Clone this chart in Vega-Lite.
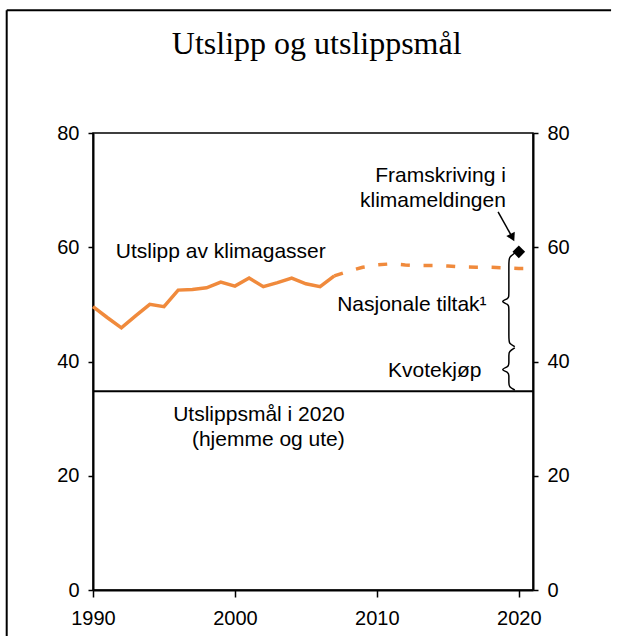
{
  "$schema": "https://vega.github.io/schema/vega-lite/v6.json",
  "width": 440,
  "height": 457,
  "autosize": {"type": "none"},
  "padding": {"left": 93, "top": 133, "right": 84, "bottom": 46},
  "background": "white",
  "config": {
    "view": {"stroke": "black", "strokeWidth": 1.5},
    "font": "Liberation Sans",
    "axis": {
      "domainColor": "black", "domainWidth": 2, "tickColor": "black", "tickWidth": 1.5,
      "labelColor": "black", "labelFont": "Liberation Sans", "labelFontSize": 20, "grid": false,
      "labelFlush": false, "labelOverlap": false
    },
    "text": {"font": "Liberation Sans", "fontSize": 21, "color": "black", "baseline": "alphabetic"}
  },
  "datasets": {
    "emissions": [
      {"year": 1990, "value": 49.6}, {"year": 1991, "value": 47.7}, {"year": 1992, "value": 45.9},
      {"year": 1993, "value": 48.0}, {"year": 1994, "value": 50.0}, {"year": 1995, "value": 49.6},
      {"year": 1996, "value": 52.5}, {"year": 1997, "value": 52.6}, {"year": 1998, "value": 52.9},
      {"year": 1999, "value": 53.9}, {"year": 2000, "value": 53.2}, {"year": 2001, "value": 54.6},
      {"year": 2002, "value": 53.1}, {"year": 2003, "value": 53.8}, {"year": 2004, "value": 54.6},
      {"year": 2005, "value": 53.6}, {"year": 2006, "value": 53.1}, {"year": 2007, "value": 55.0}
    ],
    "projection": [
      {"year": 2007, "value": 55.0}, {"year": 2008, "value": 55.8}, {"year": 2009, "value": 56.5},
      {"year": 2010, "value": 56.9}, {"year": 2011, "value": 57.1}, {"year": 2012, "value": 56.9},
      {"year": 2013, "value": 56.8}, {"year": 2014, "value": 56.8}, {"year": 2015, "value": 56.7},
      {"year": 2016, "value": 56.55}, {"year": 2017, "value": 56.5}, {"year": 2018, "value": 56.5},
      {"year": 2019, "value": 56.4}, {"year": 2020, "value": 56.3}, {"year": 2021, "value": 56.3}
    ],
    "braces": [
      {"brace": "a", "i": 1, "year": 2019.72, "value": 59.0},
      {"brace": "a", "i": 2, "year": 2019.3, "value": 58.2},
      {"brace": "a", "i": 3, "year": 2019.3, "value": 57.6},
      {"brace": "a", "i": 4, "year": 2019.3, "value": 51.6},
      {"brace": "a", "i": 5, "year": 2019.3, "value": 51.0},
      {"brace": "a", "i": 6, "year": 2018.65, "value": 50.5},
      {"brace": "a", "i": 7, "year": 2019.3, "value": 50.0},
      {"brace": "a", "i": 8, "year": 2019.3, "value": 49.4},
      {"brace": "a", "i": 9, "year": 2019.3, "value": 43.8},
      {"brace": "a", "i": 10, "year": 2019.3, "value": 43.2},
      {"brace": "a", "i": 11, "year": 2019.72, "value": 42.6},
      {"brace": "b", "i": 1, "year": 2019.72, "value": 42.4},
      {"brace": "b", "i": 2, "year": 2019.3, "value": 41.7},
      {"brace": "b", "i": 3, "year": 2019.3, "value": 41.2},
      {"brace": "b", "i": 4, "year": 2019.3, "value": 39.6},
      {"brace": "b", "i": 5, "year": 2019.3, "value": 39.1},
      {"brace": "b", "i": 6, "year": 2018.65, "value": 38.6},
      {"brace": "b", "i": 7, "year": 2019.3, "value": 38.1},
      {"brace": "b", "i": 8, "year": 2019.3, "value": 37.6},
      {"brace": "b", "i": 9, "year": 2019.3, "value": 36.2},
      {"brace": "b", "i": 10, "year": 2019.3, "value": 35.6},
      {"brace": "b", "i": 11, "year": 2019.72, "value": 35.0}
    ],
    "target": [{"label": "Utslippsmål i 2020", "value": 34.8}],
    "forecast": [{"year": 2020, "value": 59.2}],
    "arrow": [{"year": 2018.54, "value": 66.2, "year2": 2019.55, "value2": 61.7}],
    "one": [{}]
  },
  "resolve": {"axis": {"y": "independent"}},
  "layer": [
    {
      "layer": [
        {
          "data": {"name": "one"},
          "mark": {"type": "rule", "color": "black", "strokeWidth": 2},
          "encoding": {
            "x": {"datum": 1983.92, "type": "quantitative", "title": null},
            "x2": {"datum": 2026.5},
            "y": {"datum": 101.5, "type": "quantitative", "title": null}
          }
        },
        {
          "data": {"name": "one"},
          "mark": {"type": "rule", "color": "black", "strokeWidth": 2},
          "encoding": {
            "x": {"datum": 1983.92, "type": "quantitative", "title": null},
            "y": {"datum": 101.5, "type": "quantitative", "title": null},
            "y2": {"datum": -12}
          }
        },
        {
          "data": {"name": "emissions"},
          "mark": {"type": "line", "color": "#F08A3C", "strokeWidth": 3.5},
          "encoding": {
            "x": {
              "field": "year", "type": "quantitative", "title": null,
              "scale": {"domain": [1990, 2021], "nice": false, "zero": false},
              "axis": {"values": [1990, 2000, 2010, 2020], "format": "d", "tickSize": 7, "labelPadding": 11, "title": null}
            },
            "y": {
              "field": "value", "type": "quantitative", "title": null,
              "scale": {"domain": [0, 80], "nice": false},
              "axis": {"values": [0, 20, 40, 60, 80], "tickSize": 5, "labelPadding": 9, "orient": "left", "title": null}
            }
          }
        },
        {
          "data": {"name": "projection"},
          "mark": {"type": "line", "color": "#F08A3C", "strokeWidth": 3.5, "strokeDash": [9, 13.7]},
          "encoding": {
            "x": {"field": "year", "type": "quantitative", "title": null},
            "y": {"field": "value", "type": "quantitative", "title": null}
          }
        },
        {
          "data": {"name": "braces"},
          "mark": {"type": "line", "color": "black", "strokeWidth": 1.5, "interpolate": "basis"},
          "encoding": {
            "x": {"field": "year", "type": "quantitative", "title": null},
            "y": {"field": "value", "type": "quantitative", "title": null},
            "detail": {"field": "brace"},
            "order": {"field": "i"}
          }
        },
        {
          "data": {"name": "arrow"},
          "mark": {"type": "rule", "color": "black", "strokeWidth": 1.5},
          "encoding": {
            "x": {"field": "year", "type": "quantitative", "title": null},
            "y": {"field": "value", "type": "quantitative", "title": null},
            "x2": {"field": "year2"},
            "y2": {"field": "value2"}
          }
        },
        {
          "data": {"name": "arrow"},
          "mark": {"type": "point", "shape": "triangle-up", "filled": true, "color": "black", "opacity": 1, "size": 90, "angle": 153},
          "encoding": {
            "x": {"field": "year2", "type": "quantitative", "title": null},
            "y": {"field": "value2", "type": "quantitative", "title": null}
          }
        },
        {
          "data": {"name": "forecast"},
          "mark": {"type": "point", "shape": "diamond", "filled": true, "color": "black", "opacity": 1, "size": 160},
          "encoding": {
            "x": {"field": "year", "type": "quantitative", "title": null},
            "y": {"field": "value", "type": "quantitative", "title": null}
          }
        },
        {
          "data": {"name": "one"},
          "mark": {"type": "text", "text": "Utslipp og utslippsmål", "font": "Liberation Serif", "fontSize": 32, "align": "center"},
          "encoding": {
            "x": {"datum": 2005.76, "type": "quantitative", "title": null},
            "y": {"datum": 93.78, "type": "quantitative", "title": null}
          }
        },
        {
          "data": {"name": "one"},
          "mark": {"type": "text", "text": "Utslipp av klimagasser", "align": "center"},
          "encoding": {
            "x": {"datum": 1999.0, "type": "quantitative", "title": null},
            "y": {"datum": 58.06, "type": "quantitative", "title": null}
          }
        },
        {
          "data": {"name": "one"},
          "mark": {"type": "text", "text": ["Framskriving i", "klimameldingen"], "align": "right", "lineHeight": 25},
          "encoding": {
            "x": {"datum": 2019.09, "type": "quantitative", "title": null},
            "y": {"datum": 71.5, "type": "quantitative", "title": null}
          }
        },
        {
          "data": {"name": "one"},
          "mark": {"type": "text", "text": "Nasjonale tiltak¹", "align": "right"},
          "encoding": {
            "x": {"datum": 2017.73, "type": "quantitative", "title": null},
            "y": {"datum": 48.9, "type": "quantitative", "title": null}
          }
        },
        {
          "data": {"name": "one"},
          "mark": {"type": "text", "text": "Kvotekjøp", "align": "right"},
          "encoding": {
            "x": {"datum": 2017.37, "type": "quantitative", "title": null},
            "y": {"datum": 37.35, "type": "quantitative", "title": null}
          }
        },
        {
          "data": {"name": "one"},
          "mark": {"type": "text", "text": ["Utslippsmål i 2020", "(hjemme og ute)"], "align": "right", "lineHeight": 25},
          "encoding": {
            "x": {"datum": 2007.74, "type": "quantitative", "title": null},
            "y": {"datum": 29.64, "type": "quantitative", "title": null}
          }
        }
      ]
    },
    {
      "data": {"name": "target"},
      "mark": {"type": "rule", "color": "black", "strokeWidth": 2},
      "encoding": {
        "y": {
          "field": "value", "type": "quantitative", "title": null,
          "axis": {"values": [0, 20, 40, 60, 80], "tickSize": 5, "labelPadding": 9, "orient": "right", "title": null}
        }
      }
    }
  ]
}
